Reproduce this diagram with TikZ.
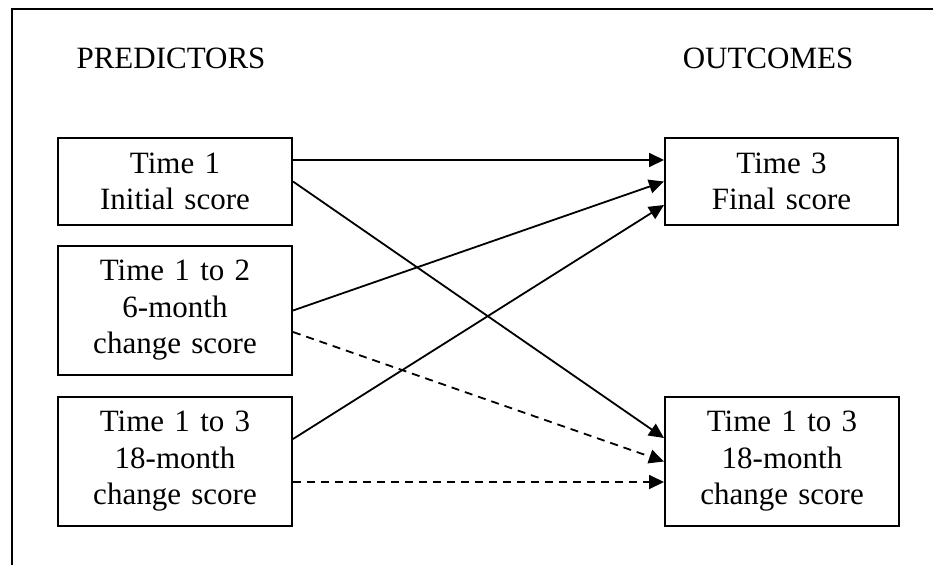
\documentclass[tikz,border=0pt]{standalone}
\usepackage{fontspec}
\setmainfont{Liberation Serif}
\usetikzlibrary{arrows.meta}
\begin{document}
\begin{tikzpicture}[x=1pt,y=-1pt,
  box/.style={draw,line width=2pt,inner sep=0pt,align=center,
    font=\fontsize{31}{36.5}\selectfont,text width=230pt},
  hdr/.style={font=\fontsize{31}{36}\selectfont,anchor=base},
  arr/.style={line width=1.8pt,-{Triangle[length=15pt,width=14pt]}},
  darr/.style={arr,dash pattern=on 8pt off 6pt}]
\useasboundingbox (0,0) rectangle (933,565);
\coordinate (fa) at (12,565);
\coordinate (fb) at (12,9);
\coordinate (fc) at (933,9);
\draw[line width=2.4pt] (fa) -- (fb) -- (fc);
\node[hdr] (hp) at (171,68) {PREDICTORS};
\node[hdr] (ho) at (768,68) {OUTCOMES};
\node[box,minimum width=234pt,minimum height=87pt] (b1) at (175,181.5) {Time 1\\Initial score};
\node[box,minimum width=234pt,minimum height=129pt] (b2) at (175,310.5) {Time 1 to 2\\6-month\\change score};
\node[box,minimum width=234pt,minimum height=129pt] (b3) at (175,461.5) {Time 1 to 3\\18-month\\change score};
\node[box,minimum width=233pt,minimum height=87pt] (o1) at (781.5,181.5) {Time 3\\Final score};
\node[box,minimum width=234pt,minimum height=129pt] (o2) at (782,461.5) {Time 1 to 3\\18-month\\change score};
\draw[arr] ([yshift=21.5pt]b1.east) -- ([yshift=21.5pt]o1.west);
\draw[arr] (b1.east) -- ([yshift=23.5pt]o2.west);
\draw[arr] (b2.east) -- (o1.west);
\draw[arr] ([yshift=22.5pt]b3.east) -- ([yshift=-23.5pt]o1.west);
\draw[darr] ([yshift=-21.5pt]b2.east) -- (o2.west);
\draw[darr] ([yshift=-20.5pt]b3.east) -- ([yshift=-20.5pt]o2.west);
\end{tikzpicture}
\end{document}
